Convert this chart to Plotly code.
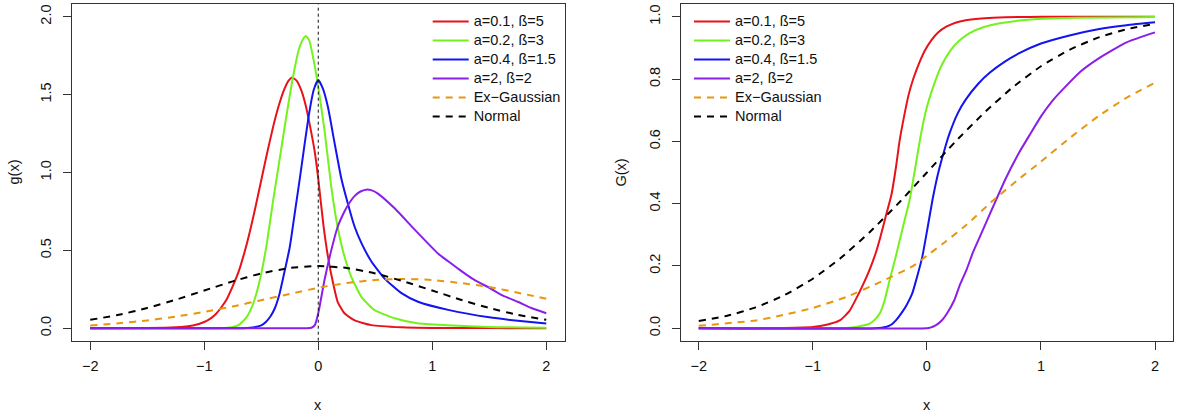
import plotly.graph_objects as go

# ---- density g(x) ----
red_x = [-2.0, -1.5, -1.25, -1.1, -1.0, -0.95, -0.9, -0.85, -0.8, -0.75, -0.7, -0.65, -0.6,
         -0.55, -0.5, -0.45, -0.4, -0.35, -0.3, -0.26, -0.23, -0.19, -0.15, -0.11, -0.07,
         -0.03, 0.0, 0.044, 0.085, 0.13, 0.17, 0.23, 0.32, 0.465, 0.73, 1.0, 1.5, 2.0]
red_g = [0.0, 0.001, 0.006, 0.018, 0.04, 0.06, 0.09, 0.135, 0.19, 0.27, 0.36, 0.48, 0.62,
         0.78, 0.95, 1.12, 1.28, 1.42, 1.53, 1.59, 1.61, 1.59, 1.53, 1.43, 1.29,
         1.13, 0.96, 0.67, 0.46, 0.29, 0.17, 0.096, 0.05, 0.02, 0.006, 0.002, 0.001, 0.0]

green_x = [-2.0, -0.9, -0.8, -0.75, -0.7, -0.66, -0.62, -0.58, -0.54, -0.5, -0.45, -0.4,
           -0.34, -0.28, -0.22, -0.17, -0.13, -0.11, -0.08, -0.04, 0.0, 0.055, 0.114, 0.17,
           0.23, 0.29, 0.38, 0.49, 0.67, 0.87, 1.14, 1.5, 2.0]
green_g = [0.0, 0.0, 0.003, 0.008, 0.02, 0.045, 0.08, 0.14, 0.23, 0.35, 0.55, 0.80,
           1.08, 1.36, 1.62, 1.79, 1.86, 1.876, 1.85, 1.72, 1.55, 1.27, 0.91, 0.65,
           0.46, 0.33, 0.20, 0.118, 0.064, 0.032, 0.02, 0.008, 0.003]

blue_x = [-2.0, -0.7, -0.6, -0.55, -0.5, -0.46, -0.42, -0.38, -0.34, -0.3, -0.25, -0.2,
          -0.16, -0.12, -0.08, -0.04, 0.0, 0.04, 0.085, 0.143, 0.2, 0.26, 0.32, 0.38,
          0.465, 0.58, 0.73, 0.875, 1.14, 1.5, 1.75, 2.0]
blue_g = [0.0, 0.0, 0.003, 0.008, 0.018, 0.04, 0.075, 0.13, 0.22, 0.35, 0.52, 0.77,
          0.97, 1.18, 1.38, 1.53, 1.594, 1.54, 1.42, 1.19, 0.97, 0.80, 0.65, 0.545,
          0.43, 0.32, 0.225, 0.17, 0.118, 0.07, 0.048, 0.03]

purple_x = [-2.0, -0.1, -0.06, -0.03, 0.0, 0.055, 0.114, 0.17, 0.22, 0.26, 0.32, 0.37,
            0.42, 0.47, 0.52, 0.67, 0.85, 1.05, 1.14, 1.25, 1.37, 1.5, 1.62, 1.75, 1.87, 2.0]
purple_g = [0.0, 0.0, 0.003, 0.02, 0.096, 0.31, 0.50, 0.65, 0.735, 0.79, 0.85, 0.878,
            0.89, 0.885, 0.866, 0.77, 0.63, 0.48, 0.43, 0.37, 0.31, 0.26, 0.21, 0.17,
            0.13, 0.096]

grid_x = [-2.0, -1.75, -1.5, -1.25, -1.0, -0.75, -0.5, -0.25, 0.0,
          0.25, 0.5, 0.75, 1.0, 1.25, 1.5, 1.75, 2.0]
exg_g = [0.018, 0.032, 0.05, 0.075, 0.105, 0.14, 0.18, 0.22, 0.26,
         0.29, 0.31, 0.316, 0.31, 0.29, 0.265, 0.228, 0.19]
norm_g = [0.054, 0.086, 0.130, 0.183, 0.242, 0.301, 0.352, 0.387, 0.399,
          0.387, 0.352, 0.301, 0.242, 0.183, 0.130, 0.086, 0.054]

# ---- distribution G(x) ----
red_cx = [-2.0, -1.25, -1.0, -0.88, -0.76, -0.68, -0.62, -0.56, -0.5, -0.45, -0.41, -0.36,
          -0.31, -0.27, -0.24, -0.2, -0.16, -0.12, -0.08, -0.02, 0.04, 0.1, 0.17, 0.25,
          0.34, 0.45, 0.58, 0.8, 1.0, 2.0]
red_G = [0.0, 0.001, 0.004, 0.011, 0.026, 0.055, 0.095, 0.14, 0.19, 0.24, 0.29, 0.36,
         0.43, 0.52, 0.60, 0.68, 0.75, 0.80, 0.84, 0.89, 0.925, 0.95, 0.968, 0.981,
         0.989, 0.994, 0.997, 0.999, 1.0, 1.0]

green_cx = [-2.0, -0.8, -0.7, -0.62, -0.56, -0.5, -0.45, -0.41, -0.37, -0.33, -0.28, -0.24,
            -0.2, -0.15, -0.1, -0.05, 0.0, 0.067, 0.13, 0.21, 0.29, 0.37, 0.5, 0.64, 0.81,
            1.2, 2.0]
green_G = [0.0, 0.0, 0.001, 0.004, 0.009, 0.015, 0.03, 0.05, 0.09, 0.15, 0.22, 0.28,
           0.34, 0.414, 0.52, 0.627, 0.71, 0.787, 0.845, 0.894, 0.925, 0.947, 0.967, 0.979,
           0.988, 0.996, 0.999]

blue_cx = [-2.0, -0.45, -0.36, -0.31, -0.27, -0.22, -0.18, -0.13, -0.09, -0.04, 0.0, 0.05,
           0.1, 0.155, 0.2, 0.27, 0.34, 0.45, 0.55, 0.68, 0.81, 1.0, 1.25, 1.5, 1.75, 2.0]
blue_G = [0.0, 0.0, 0.004, 0.012, 0.026, 0.05, 0.073, 0.11, 0.16, 0.23, 0.31, 0.414,
          0.5, 0.574, 0.627, 0.69, 0.734, 0.785, 0.82, 0.855, 0.883, 0.914, 0.94, 0.96,
          0.973, 0.982]

purple_cx = [-2.0, 0.0, 0.03, 0.08, 0.13, 0.18, 0.24, 0.29, 0.35, 0.4, 0.46, 0.52, 0.58,
             0.69, 0.81, 0.9, 1.0, 1.1, 1.2, 1.35, 1.5, 1.75, 2.0]
purple_G = [0.0, 0.0, 0.002, 0.01, 0.025, 0.05, 0.09, 0.14, 0.19, 0.24, 0.29, 0.34, 0.39,
            0.48, 0.565, 0.62, 0.68, 0.73, 0.77, 0.825, 0.865, 0.918, 0.95]

exg_cx = [-2.0, -1.5, -1.29, -1.0, -0.71, -0.41, -0.12, 0.0, 0.17, 0.34, 0.58, 0.81, 1.0,
          1.25, 1.5, 1.75, 2.0]
exg_G = [0.008, 0.025, 0.04, 0.065, 0.10, 0.148, 0.2, 0.233, 0.28, 0.33, 0.41, 0.48, 0.535,
         0.61, 0.68, 0.74, 0.788]
norm_G = [0.023, 0.040, 0.067, 0.106, 0.159, 0.227, 0.309, 0.401, 0.5,
          0.599, 0.691, 0.773, 0.841, 0.894, 0.933, 0.960, 0.977]

names = ["a=0.1, ß=5", "a=0.2, ß=3", "a=0.4, ß=1.5", "a=2, ß=2", "Ex\u2212Gaussian", "Normal"]
colors = ["#E8121A", "#74F21E", "#1414F0", "#8A1EEA", "#E8960C", "#000000"]
dashes = ["solid", "solid", "solid", "solid", "7px,6px", "7px,6px"]

vline_x = 0

pdf_series = [(red_x, red_g), (green_x, green_g), (blue_x, blue_g),
              (purple_x, purple_g), (grid_x, exg_g), (grid_x, norm_g)]
cdf_series = [(red_cx, red_G), (green_cx, green_G), (blue_cx, blue_G),
              (purple_cx, purple_G), (exg_cx, exg_G), (grid_x, norm_G)]

# legend rows are spaced by the small legend font, the label itself is drawn larger
label = "<span style='font-size:14.5px'>{}</span>"

fig = go.Figure()
for i, (xs, ys) in enumerate(pdf_series):
    fig.add_trace(go.Scatter(x=xs, y=ys, mode="lines", name=label.format(names[i]),
                             line=dict(color=colors[i], width=2, dash=dashes[i],
                                       shape="spline", smoothing=0.5),
                             xaxis="x", yaxis="y", legend="legend"))
for i, (xs, ys) in enumerate(cdf_series):
    fig.add_trace(go.Scatter(x=xs, y=ys, mode="lines", name=label.format(names[i]),
                             line=dict(color=colors[i], width=2, dash=dashes[i],
                                       shape="spline", smoothing=0.5),
                             xaxis="x2", yaxis="y2", legend="legend2"))

fig.add_shape(type="line", xref="x", yref="y domain", x0=vline_x, x1=vline_x, y0=0, y1=1,
              line=dict(color="#111", width=1, dash="3px,3px"))

W, H = 1179, 413
axis_common = dict(showline=True, mirror=True, linecolor="#333", linewidth=1,
                   ticks="outside", ticklen=8, tickcolor="#333", showgrid=False,
                   zeroline=False, tickfont=dict(size=14.5, color="#111"), automargin=False)
x_ticks = [-2, -1, 0, 1, 2]
legend_common = dict(xanchor="left", yanchor="top", bgcolor="rgba(0,0,0,0)",
                     borderwidth=0, font=dict(size=10.3, color="#111"), itemwidth=36,
                     tracegroupgap=0)

fig.update_layout(
    width=W, height=H,
    margin=dict(l=0, r=0, t=0, b=0),
    paper_bgcolor="white", plot_bgcolor="white",
    font=dict(family="Liberation Sans, Arial, sans-serif", color="#111"),
    xaxis=dict(domain=[72 / W, 564.5 / W], range=[-2.16, 2.16], tickvals=x_ticks,
               anchor="y", ticklabelstandoff=4, **axis_common),
    yaxis=dict(domain=[1 - 340.7 / H, 1 - 4.3 / H], range=[-0.08, 2.08],
               tickvals=[0, 0.5, 1, 1.5, 2], ticktext=["0.0", "0.5", "1.0", "1.5", "2.0"],
               tickangle=-90, anchor="x", ticklabelstandoff=6, **axis_common),
    xaxis2=dict(domain=[680.5 / W, 1173.3 / W], range=[-2.16, 2.16], tickvals=x_ticks,
                anchor="y2", ticklabelstandoff=4, **axis_common),
    yaxis2=dict(domain=[1 - 340.7 / H, 1 - 4.3 / H], range=[-0.04, 1.04],
                tickvals=[0, 0.2, 0.4, 0.6, 0.8, 1.0],
                ticktext=["0.0", "0.2", "0.4", "0.6", "0.8", "1.0"],
                tickangle=-90, anchor="x2", ticklabelstandoff=6, **axis_common),
    legend=dict(x=427.7 / W, y=1 - 7 / H, **legend_common),
    legend2=dict(x=689 / W, y=1 - 7 / H, **legend_common),
    annotations=[
        dict(text="x", x=318.3 / W, y=1 - 405 / H, xref="paper", yref="paper",
             xanchor="center", yanchor="middle", showarrow=False, font=dict(size=14.5)),
        dict(text="x", x=927.3 / W, y=1 - 405 / H, xref="paper", yref="paper",
             xanchor="center", yanchor="middle", showarrow=False, font=dict(size=14.5)),
        dict(text="g(x)", x=13 / W, y=1 - 172.5 / H, xref="paper", yref="paper",
             xanchor="center", yanchor="middle", showarrow=False, textangle=-90,
             font=dict(size=14.5)),
        dict(text="G(x)", x=620 / W, y=1 - 172.5 / H, xref="paper", yref="paper",
             xanchor="center", yanchor="middle", showarrow=False, textangle=-90,
             font=dict(size=14.5)),
    ],
)

# drop the browser's default page margin so the figure sits at the window origin
fig.write_html("out.html", config={"displayModeBar": False},
               post_script="document.body.style.margin='0';")
